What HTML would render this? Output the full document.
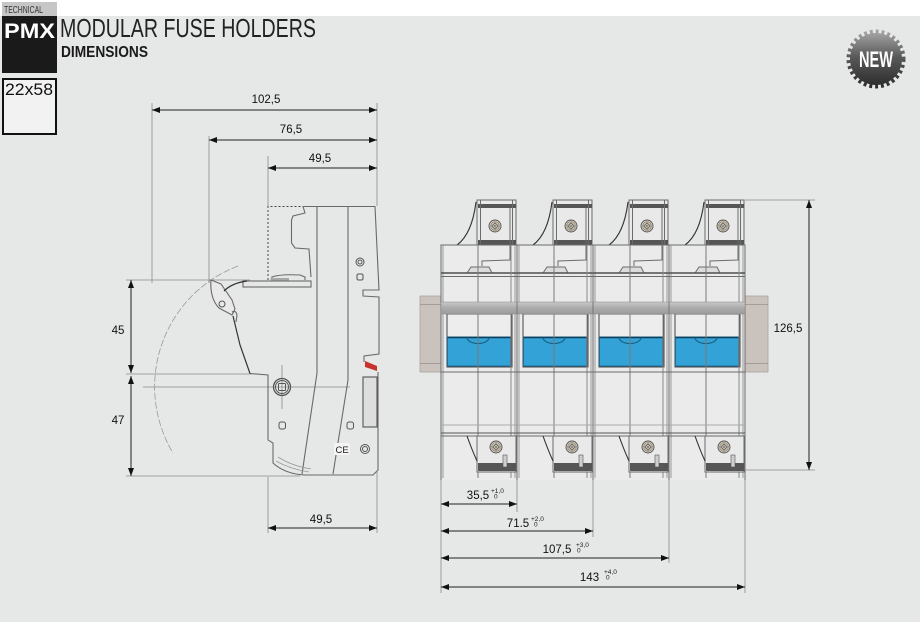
<!DOCTYPE html>
<html><head><meta charset="utf-8"><style>
html,body{margin:0;padding:0;background:#fff;}
svg{display:block;}
text{font-family:"Liberation Sans",Arial,sans-serif;}
</style></head><body>
<svg width="920" height="627" viewBox="0 0 920 627" xmlns="http://www.w3.org/2000/svg">
<defs>
 <linearGradient id="band" x1="0" y1="0" x2="0" y2="1"><stop offset="0" stop-color="#c8c8c8"/><stop offset="0.5" stop-color="#ababab"/><stop offset="1" stop-color="#9c9c9c"/></linearGradient>
 <linearGradient id="newg" x1="0" y1="0" x2="0" y2="1"><stop offset="0" stop-color="#a2a2a2"/><stop offset="0.45" stop-color="#5a5a5a"/><stop offset="1" stop-color="#2e2e2e"/></linearGradient>
 <marker id="ah" markerUnits="userSpaceOnUse" viewBox="0 0 8 6" refX="8" refY="3" markerWidth="8" markerHeight="6" orient="auto-start-reverse"><path d="M0 0 L8 3 L0 6 z" fill="#111"/></marker>
 <g id="screw">
  <circle cx="0" cy="0" r="6" fill="#d2c9b7" stroke="#555" stroke-width="0.9"/>
  <circle cx="0" cy="0" r="4.3" fill="none" stroke="#8a8275" stroke-width="0.7"/>
  <path d="M-3.2 0 L0 -3.2 L3.2 0 L0 3.2 Z" fill="#e4dccb" stroke="#555" stroke-width="0.8"/>
  <path d="M-1.6 0 H1.6 M0 -1.6 V1.6" stroke="#555" stroke-width="0.7"/>
 </g>
 <g id="mod" fill="none" stroke="#6b6b6b" stroke-width="1">
  <rect x="36" y="200" width="39" height="45" fill="#e9e9e9"/>
  <rect x="37" y="204" width="38" height="4" fill="#565656" stroke="none"/>
  <rect x="37" y="240" width="38" height="5" fill="#565656" stroke="none"/>
  <line x1="39.5" y1="200" x2="39.5" y2="245"/>
  <line x1="71.5" y1="200" x2="71.5" y2="245"/>
  <path d="M35 202 Q31 234 16 245" stroke="#333" stroke-width="1.1"/>
  <use href="#screw" x="54" y="226"/>
  <rect x="0" y="245" width="76" height="235" fill="#ebebeb" stroke="none"/>
  <path d="M0 480 L0 245 L76 245 L76 480"/>
  <line x1="2" y1="245" x2="2" y2="478" stroke="#999"/>
  <line x1="74" y1="245" x2="74" y2="478" stroke="#999"/>
  <path d="M26 273 L30 267 L48 267 L51 273" fill="#dcdcdc"/>
  <path d="M41 266 L41 261 L69 260 L69 208"/>
  <line x1="0" y1="273" x2="76" y2="273" stroke="#505050" stroke-width="1.6"/>
  <line x1="0" y1="276.5" x2="76" y2="276.5"/>
  <rect x="6" y="314" width="65" height="53" fill="#ededed" stroke="#444"/>
  <rect x="6.5" y="337" width="63" height="29" fill="#33a2d6" stroke="#1d6f99"/>
  <line x1="6.5" y1="337.5" x2="69.5" y2="337.5" stroke="#0e3f5a" stroke-width="1.6"/>
  <path d="M26 337.5 A11 6 0 0 0 48 337.5" stroke="#1a5f84" stroke-width="1.1"/>
  <line x1="37" y1="245" x2="37" y2="478" stroke="#7a7a7a"/>
  <line x1="70" y1="245" x2="70" y2="478" stroke="#8a8a8a"/>
  <line x1="0" y1="372" x2="76" y2="372"/>
  <line x1="0" y1="425" x2="76" y2="425" stroke="#aaa"/>
  <line x1="0" y1="433" x2="76" y2="433" stroke="#555"/>
  <line x1="0" y1="436" x2="76" y2="436"/>
  <rect x="36" y="436" width="39" height="36" fill="#e9e9e9"/>
  <path d="M26 436 Q31 450 36 461" stroke="#333" stroke-width="1.1"/>
  <use href="#screw" x="55" y="447"/>
  <rect x="37" y="463" width="38" height="8" fill="#565656" stroke="none"/>
  <rect x="62" y="455" width="4" height="12" fill="#cfcfcf" stroke="#555" stroke-width="0.6"/>
 </g>
</defs>

<!-- background -->
<rect x="0" y="16" width="920" height="606" fill="#e6e7e7"/>

<!-- header -->
<rect x="2" y="2" width="55" height="14" fill="#c6c6c6"/>
<text x="4" y="13" font-size="10.5" fill="#333" textLength="39" lengthAdjust="spacingAndGlyphs">TECHNICAL</text>
<rect x="2" y="16" width="55" height="57" fill="#1a1a1a"/>
<text x="4" y="38" font-size="21" font-weight="bold" fill="#fff" textLength="51" lengthAdjust="spacingAndGlyphs">PMX</text>
<text x="60" y="37" font-size="26" fill="#222" textLength="256" lengthAdjust="spacingAndGlyphs">MODULAR FUSE HOLDERS</text>
<text x="61" y="57" font-size="16" font-weight="bold" fill="#1a1a1a" textLength="87" lengthAdjust="spacingAndGlyphs">DIMENSIONS</text>
<rect x="3" y="79" width="53" height="55" fill="#f2f2f2" stroke="#111" stroke-width="2"/>
<text x="5" y="95" font-size="17" fill="#111" textLength="48" lengthAdjust="spacingAndGlyphs">22x58</text>

<!-- NEW badge -->
<circle cx="876" cy="59" r="26" fill="url(#newg)"/>
<circle cx="876" cy="59" r="27" fill="none" stroke="url(#newg)" stroke-width="5" stroke-dasharray="2.9 2.86"/>
<text x="876" y="67" font-size="22" font-weight="bold" fill="#fff" text-anchor="middle" textLength="34" lengthAdjust="spacingAndGlyphs">NEW</text>

<!-- ===== LEFT SIDE VIEW ===== -->
<g stroke="#8a8a8a" stroke-width="0.8" fill="none">
 <line x1="152" y1="103" x2="152" y2="283"/>
 <line x1="209" y1="136" x2="209" y2="283"/>
 <line x1="268" y1="156" x2="268" y2="206"/>
 <line x1="377" y1="103" x2="377" y2="206"/>
 <line x1="268" y1="477" x2="268" y2="533"/>
 <line x1="377" y1="472" x2="377" y2="533"/>
 <line x1="126" y1="280" x2="250" y2="280"/>
 <line x1="126" y1="374" x2="252" y2="374"/>
 <line x1="126" y1="476" x2="300" y2="476"/>
 <line x1="143" y1="387" x2="350" y2="387"/>
 <line x1="282" y1="365" x2="282" y2="409"/>
 <path d="M238 266 A129 129 0 0 0 173 453" stroke="#9a9a9a" stroke-dasharray="7 2"/>
</g>
<path d="M268 280 L268 206.5 L303 206.5" fill="none" stroke="#444" stroke-width="1" stroke-dasharray="2 2"/>

<!-- device side body -->
<g fill="none" stroke="#6a6a6a" stroke-width="1.1">
 <path d="M303 206.5 L375 206.5 L379 290 L363 290 L363 296 L379 297 L379 354 L364 356 L364 362"/>
 <path d="M378 372 L378 470 L373 475 L305 475 Q285 474 273 463 L273 443 L268 440 L268 375 L250 373.5"/>
 <path d="M303 206.5 L305 213 L293 216 L291.5 220 L291.5 243 L295 248 L309 249 L311 277"/>
 <rect x="243" y="281" width="68" height="6"/>
 <path d="M271 280 L272 277 Q280 274 300 275 L305 277 L305 280"/>
 <path d="M317 206.5 L317 373 L302 474"/>
 <path d="M348 206.5 L348 380 L333 474"/>
 <rect x="363" y="377" width="14" height="50" fill="#dedede" stroke="#555"/>
 <path d="M211 280 C210 292 213 302 219 308 L232 315 L235 309 L232 300 L221 284 Z" fill="#e9e9e9"/>
 <path d="M232 312 Q236 310 237 315 L236 322" />
 <path d="M276 461 Q290 469 309 472 M278 457 Q292 466 311 469" stroke="#999" stroke-width="0.8"/>
</g>
<rect x="271" y="278" width="18" height="2.5" fill="#a8a8a8"/>
<path d="M224 291 Q232 283 247 281" fill="none" stroke="#333" stroke-width="1.3"/>
<path d="M250 373.5 L240 345 L233 316" fill="none" stroke="#333" stroke-width="1.2"/>
<polygon points="365,361 377,366 377,371 365,367" fill="#c8322c"/>
<g fill="none" stroke="#555" stroke-width="1">
 <circle cx="222" cy="304" r="3"/>
 <circle cx="282" cy="387" r="8.5" stroke-width="1.3"/>
 <circle cx="282" cy="387" r="6.5"/>
 <rect x="278.5" y="383.5" width="7" height="7" rx="1"/>
 <circle cx="360" cy="262" r="4"/>
 <circle cx="360" cy="262" r="2"/>
 <rect x="357" y="274" width="6" height="6" rx="1.5"/>
 <rect x="279" y="422" width="6.5" height="7" rx="2"/>
 <rect x="347" y="422" width="6.5" height="7" rx="2"/>
 <circle cx="365" cy="449" r="4.5"/>
 <circle cx="365" cy="449" r="2.5"/>
</g>
<rect x="334" y="443" width="16" height="12" rx="2" fill="#f4f4f4"/>
<text x="335.5" y="453" font-size="9.5" fill="#222">CE</text>

<!-- left dims -->
<g stroke="#222" stroke-width="1" fill="none">
 <line x1="152" y1="110" x2="377" y2="110" marker-start="url(#ah)" marker-end="url(#ah)"/>
 <line x1="209" y1="140" x2="377" y2="140" marker-start="url(#ah)" marker-end="url(#ah)"/>
 <line x1="268" y1="168" x2="377" y2="168" marker-start="url(#ah)" marker-end="url(#ah)"/>
 <line x1="268" y1="528" x2="377" y2="528" marker-start="url(#ah)" marker-end="url(#ah)"/>
 <line x1="131" y1="280" x2="131" y2="373" marker-start="url(#ah)" marker-end="url(#ah)"/>
 <line x1="131" y1="376" x2="131" y2="476" marker-start="url(#ah)" marker-end="url(#ah)"/>
</g>
<g font-size="11.5" fill="#111" text-anchor="middle">
 <text x="266" y="103">102,5</text>
 <text x="291" y="133">76,5</text>
 <text x="320" y="162">49,5</text>
 <text x="321" y="523">49,5</text>
 <text x="118" y="334">45</text>
 <text x="118" y="424">47</text>
 <text x="788" y="332">126,5</text>
</g>

<!-- ===== FRONT VIEW ===== -->
<rect x="420" y="296" width="21" height="76" fill="#cac2bc" stroke="#aaa39d" stroke-width="0.8"/>
<rect x="745" y="296" width="23" height="76" fill="#cac2bc" stroke="#aaa39d" stroke-width="0.8"/>
<line x1="420" y1="304.5" x2="441" y2="304.5" stroke="#a59d97"/>
<line x1="420" y1="363.5" x2="441" y2="363.5" stroke="#a59d97"/>
<line x1="745" y1="304.5" x2="768" y2="304.5" stroke="#a59d97"/>
<line x1="745" y1="363.5" x2="768" y2="363.5" stroke="#a59d97"/>

<use href="#mod" x="441" y="0"/>
<use href="#mod" x="517" y="0"/>
<use href="#mod" x="593" y="0"/>
<use href="#mod" x="669" y="0"/>

<rect x="441" y="302" width="304" height="12" fill="url(#band)" stroke="#888" stroke-width="0.5"/>
<g stroke="#777" stroke-width="1">
 <line x1="517" y1="302" x2="517" y2="314"/>
 <line x1="593" y1="302" x2="593" y2="314"/>
 <line x1="669" y1="302" x2="669" y2="314"/>
</g>

<!-- front extension lines -->
<g stroke="#8a8a8a" stroke-width="0.8">
 <line x1="745" y1="200" x2="815" y2="200"/>
 <line x1="745" y1="470" x2="815" y2="470"/>
 <line x1="441" y1="480" x2="441" y2="593"/>
 <line x1="517" y1="480" x2="517" y2="512"/>
 <line x1="593" y1="480" x2="593" y2="537"/>
 <line x1="669" y1="480" x2="669" y2="563"/>
 <line x1="745" y1="480" x2="745" y2="593"/>
</g>
<g stroke="#222" stroke-width="1" fill="none">
 <line x1="809" y1="200" x2="809" y2="470" marker-start="url(#ah)" marker-end="url(#ah)"/>
 <line x1="441" y1="504" x2="517" y2="504" marker-start="url(#ah)" marker-end="url(#ah)"/>
 <line x1="441" y1="531" x2="593" y2="531" marker-start="url(#ah)" marker-end="url(#ah)"/>
 <line x1="441" y1="558" x2="669" y2="558" marker-start="url(#ah)" marker-end="url(#ah)"/>
 <line x1="441" y1="587" x2="745" y2="587" marker-start="url(#ah)" marker-end="url(#ah)"/>
</g>
<g font-size="11.5" fill="#111" text-anchor="middle">
 <text x="478" y="499">35,5</text>
 <text x="518" y="527">71.5</text>
 <text x="557" y="553">107,5</text>
 <text x="589.5" y="581">143</text>
</g>
<g font-size="6.5" fill="#1a1a1a">
 <text x="491" y="493">+1,0</text>
 <text x="494" y="498.5">0</text>
 <text x="531" y="521">+2,0</text>
 <text x="534" y="526.5">0</text>
 <text x="576" y="547">+3,0</text>
 <text x="577" y="552.5">0</text>
 <text x="604" y="574">+4,0</text>
 <text x="606" y="579.5">0</text>
</g>
</svg>
</body></html>
